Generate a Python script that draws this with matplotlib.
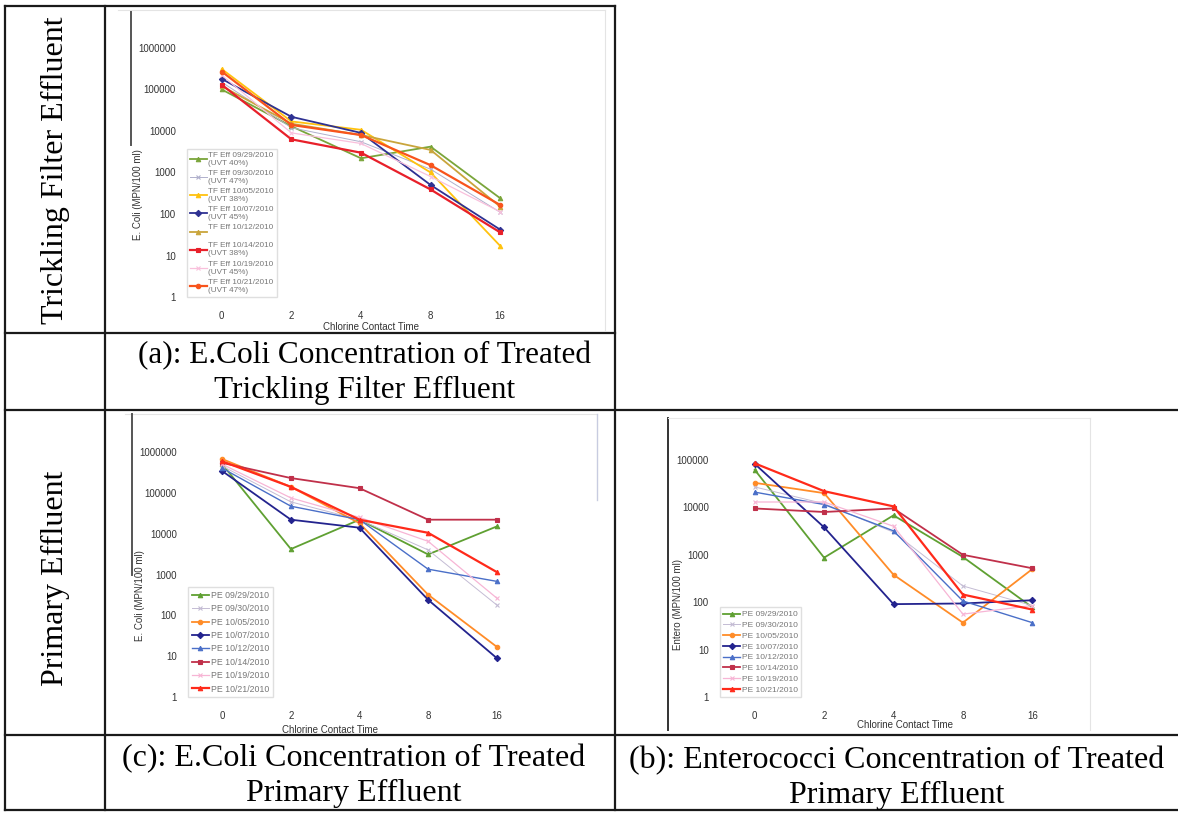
import matplotlib.pyplot as plt
from matplotlib.lines import Line2D

W, H = 1178, 813

# chlorine contact time categories
times = ['0', '2', '4', '8', '16']

# (a) trickling filter effluent, E. coli (MPN/100 ml)
tf_labels = ['TF Eff 09/29/2010\n(UVT 40%)', 'TF Eff 09/30/2010\n(UVT 47%)',
             'TF Eff 10/05/2010\n(UVT 38%)', 'TF Eff 10/07/2010\n(UVT 45%)',
             'TF Eff 10/12/2010\n ', 'TF Eff 10/14/2010\n(UVT 38%)',
             'TF Eff 10/19/2010\n(UVT 45%)', 'TF Eff 10/21/2010\n(UVT 47%)']
tf_0929 = [1.0e5, 1.3e4, 2.2e3, 4.2e3, 240]
tf_0930 = [1.5e5, 1.2e4, 5.5e3, 1.2e3, 110]
tf_1005 = [3.1e5, 1.7e4, 1.07e4, 1.0e3, 17]
tf_1007 = [1.8e5, 2.2e4, 9.0e3, 500, 42]
tf_1012 = [1.2e5, 1.5e4, 8.0e3, 3.5e3, 150]
tf_1014 = [1.3e5, 6.3e3, 3.0e3, 390, 36]
tf_1019 = [2.2e5, 9.0e3, 5.0e3, 800, 113]
tf_1021 = [2.7e5, 1.4e4, 8.0e3, 1.5e3, 165]

# (c) primary effluent, E. coli
pe_labels = ['PE 09/29/2010', 'PE 09/30/2010', 'PE 10/05/2010', 'PE 10/07/2010',
             'PE 10/12/2010', 'PE 10/14/2010', 'PE 10/19/2010', 'PE 10/21/2010']
ec_0929 = [5.0e5, 4.2e3, 2.2e4, 3.1e3, 1.5e4]
ec_0930 = [4.5e5, 6.0e4, 2.2e4, 4.0e3, 180]
ec_1005 = [6.7e5, 1.4e5, 1.8e4, 320, 17]
ec_1007 = [3.4e5, 2.2e4, 1.4e4, 240, 9]
ec_1012 = [4.0e5, 4.7e4, 2.2e4, 1.35e3, 680]
ec_1014 = [5.4e5, 2.3e5, 1.3e5, 2.2e4, 2.2e4]
ec_1019 = [5.0e5, 7.5e4, 2.5e4, 6.5e3, 265]
ec_1021 = [5.9e5, 1.4e5, 2.2e4, 1.05e4, 1.15e3]

# (b) primary effluent, enterococci
en_0929 = [6.2e4, 870, 6.8e3, 900, 78]
en_0930 = [2.7e4, 1.2e4, 3.0e3, 220, 85]
en_1005 = [3.3e4, 2.0e4, 380, 37, 500]
en_1007 = [8.3e4, 3.8e3, 91, 94, 110]
en_1012 = [2.1e4, 1.15e4, 3.2e3, 106, 37]
en_1014 = [9.5e3, 8.0e3, 9.5e3, 1.0e3, 520]
en_1019 = [1.3e4, 1.3e4, 4.0e3, 56, 85]
en_1021 = [8.5e4, 2.2e4, 1.05e4, 145, 70]

# colour, marker, line width per series
tf_style = [('#7aa53a', '^', 1.3), ('#b0b0cc', 'x', 0.7), ('#ffc20e', '^', 1.3),
            ('#2e3192', 'D', 1.3), ('#c9a53c', '^', 1.3), ('#e8202a', 's', 1.6),
            ('#f9c0dc', 'x', 0.9), ('#f8541c', 'o', 1.6)]
pe_style = [('#5fa032', '^', 1.3), ('#c4bcd4', 'x', 0.7), ('#ff8c28', 'o', 1.3),
            ('#23238e', 'D', 1.3), ('#4a6fc8', '^', 1.0), ('#c0304a', 's', 1.3),
            ('#f7b5d5', 'x', 0.9), ('#ff2a1a', '^', 1.6)]

fig = plt.figure(figsize=(W / 100, H / 100), dpi=100)


def line(x0, y0, x1, y1, color='#1a1a1a', lw=1.6):
    fig.add_artist(Line2D([x0 / W, x1 / W], [1 - y0 / H, 1 - y1 / H],
                          color=color, lw=lw, transform=fig.transFigure))


def chart(box, series, labels, styles, ymax, ylabel, ylab_pos, xlab_pos, leg_fs, leg_sp):
    left, top, right, bottom = box
    ax = fig.add_axes([left / W, 1 - bottom / H, (right - left) / W, (bottom - top) / H])
    x = range(len(times))
    for vals, lab, (c, m, lw) in zip(series, labels, styles):
        ax.plot(x, vals, color=c, marker=m, ms=3.2, lw=lw, mew=0.8, label=lab)
    ax.set_yscale('log')
    ax.set_ylim(1, ymax)
    ax.set_xlim(-0.5, len(times) - 0.5)
    ax.set_xticks(list(x))
    ax.set_xticklabels(times)
    ticks = [10 ** i for i in range(len(str(int(ymax))))]
    ax.set_yticks(ticks)
    ax.set_yticklabels([str(t) for t in ticks])
    ax.minorticks_off()
    for s in ax.spines.values():
        s.set_visible(False)
    ax.tick_params(axis='x', length=0, pad=10, labelsize=7, labelcolor='#333333')
    ax.tick_params(axis='y', length=0, pad=8, labelsize=7, labelcolor='#333333')
    for t in ax.get_xticklabels() + ax.get_yticklabels():
        t.set_family('Liberation Sans')
    ax.set_ylabel(ylabel, fontsize=7, family='Liberation Sans', color='#333333')
    ax.yaxis.set_label_coords(*ylab_pos)
    ax.set_xlabel('Chlorine Contact Time', fontsize=7, family='Liberation Sans',
                  color='#333333')
    ax.xaxis.set_label_coords(*xlab_pos)
    leg = ax.legend(loc='lower left', bbox_to_anchor=(0, 0), frameon=True,
                    fancybox=False, edgecolor='#d8d8d8',
                    borderpad=0.4, labelspacing=leg_sp, handlelength=2.0,
                    handletextpad=0.2, borderaxespad=0,
                    prop={'family': 'Liberation Sans', 'size': leg_fs})
    for t in leg.get_texts():
        t.set_color('#777777')
    return ax


chart((187, 48, 535, 297),
      [tf_0929, tf_0930, tf_1005, tf_1007, tf_1012, tf_1014, tf_1019, tf_1021],
      tf_labels, tf_style, 1e6, 'E. Coli (MPN/100 ml)', (-0.126, 0.41), (0.53, -0.1),
      5.9, 0.38)
chart((188, 452, 531, 697),
      [ec_0929, ec_0930, ec_1005, ec_1007, ec_1012, ec_1014, ec_1019, ec_1021],
      pe_labels, pe_style, 1e6, 'E. Coli (MPN/100 ml)', (-0.125, 0.416), (0.414, -0.114),
      6.3, 0.5)
chart((720, 460, 1067, 697),
      [en_0929, en_0930, en_1005, en_1007, en_1012, en_1014, en_1019, en_1021],
      pe_labels, pe_style, 1e5, 'Entero (MPN/100 ml)', (-0.107, 0.39), (0.533, -0.097),
      6.0, 0.35)

# faint chart-image borders and scan marks
line(118, 10, 605, 10, '#e4e4e4', 0.8)
line(605, 10, 605, 330, '#e4e4e4', 0.8)
line(131, 12, 131, 145, '#555555', 1.4)
line(125, 414, 597, 414, '#e4e4e4', 0.8)
line(597, 414, 597, 500, '#c8cce0', 1.0)
line(132, 414, 132, 575, '#555555', 1.4)
line(668, 418, 668, 730, '#333333', 1.4)
line(668, 418, 1090, 418, '#e8e8e8', 0.8)
line(1090, 418, 1090, 730, '#e4e4e4', 0.8)

# table grid
line(5, 6, 615, 6)
line(5, 6, 5, 810)
line(105, 6, 105, 810)
line(615, 6, 615, 810)
line(5, 333, 615, 333)
line(5, 410, 1178, 410)
line(5, 735, 1178, 735)
line(5, 810, 1178, 810)

serif = 'Liberation Serif'
fig.text(55 / W, 1 - 170 / H, 'Trickling Filter Effluent', rotation=90, ha='center',
         va='center', fontsize=23, family=serif)
fig.text(55 / W, 1 - 578 / H, 'Primary Effluent', rotation=90, ha='center',
         va='center', fontsize=23, family=serif)
fig.text(365 / W, 1 - 373 / H, '(a): E.Coli Concentration of Treated\nTrickling Filter Effluent',
         ha='center', va='center', fontsize=22.5, family=serif, linespacing=1.3)
fig.text(354 / W, 1 - 776 / H, '(c): E.Coli Concentration of Treated\nPrimary Effluent',
         ha='center', va='center', fontsize=23, family=serif, linespacing=1.3)
fig.text(897 / W, 1 - 778 / H, '(b): Enterococci Concentration of Treated\nPrimary Effluent',
         ha='center', va='center', fontsize=23, family=serif, linespacing=1.3)

fig.savefig('out.png', dpi=100)
